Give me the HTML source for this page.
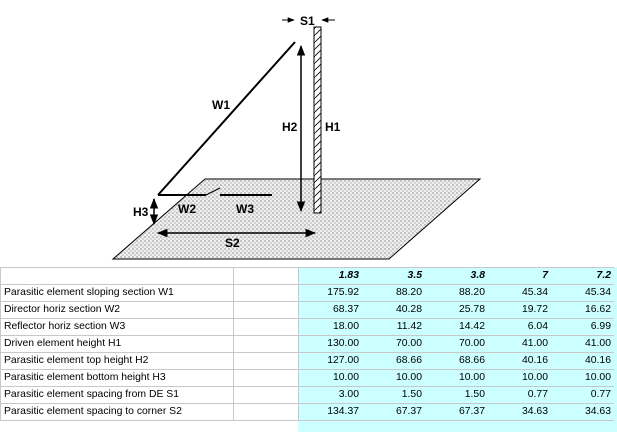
<!DOCTYPE html>
<html><head><style>
body{margin:0;width:617px;height:432px;background:#fff;overflow:hidden;position:relative;font-family:"Liberation Sans",sans-serif}
svg{position:absolute;left:0;top:0}
table{position:absolute;left:0;top:267px;border-collapse:collapse;font-size:10.4px;color:#000}
td{height:16px;padding:0 3px;border:1px solid #c8c8c8;white-space:nowrap;line-height:16px}
td.c{background:#ccffff;border-left:none;border-right:none;text-align:right;width:57px;border-top:1px solid #c8c8c8}
tr.h td.c{font-weight:bold;font-style:italic}
</style></head><body>
<div style="position:absolute;left:298px;top:267px;width:319px;height:165px;background:#ccffff"></div>
<svg width="617" height="267">
<defs>
<pattern id="d" width="4" height="4" patternUnits="userSpaceOnUse"><rect width="4" height="4" fill="#efefef"/><rect width="2" height="2" fill="#c4c4c4"/><rect x="2" y="2" width="2" height="2" fill="#d4d4d4"/></pattern>
<pattern id="h" width="7" height="7" patternUnits="userSpaceOnUse"><rect width="7" height="7" fill="#fff"/><path d="M0 7L7 0" stroke="#000" stroke-width="0.8"/></pattern>
<marker id="a" viewBox="0 0 10 10" refX="9" refY="5" markerWidth="7" markerHeight="7" orient="auto-start-reverse"><path d="M0 1L10 5L0 9z" fill="#000"/></marker>
</defs>
<polygon points="205,179 480,179 389,259 113,259" fill="url(#d)" stroke="#000" stroke-width="1"/>
<rect x="314" y="27" width="7" height="186" fill="url(#h)" stroke="#000"/>
<line x1="158" y1="195" x2="295" y2="42" stroke="#000" stroke-width="2"/>
<line x1="158" y1="195" x2="206" y2="195" stroke="#000" stroke-width="2"/>
<line x1="206" y1="195" x2="220" y2="188" stroke="#000" stroke-width="1"/>
<line x1="220" y1="195" x2="272" y2="195" stroke="#000" stroke-width="2"/>
<line x1="301" y1="46" x2="301" y2="211" stroke="#000" stroke-width="1.5" marker-start="url(#a)" marker-end="url(#a)"/>
<line x1="154" y1="199" x2="154" y2="224" stroke="#000" stroke-width="1.5" marker-start="url(#a)" marker-end="url(#a)"/>
<line x1="158" y1="233" x2="315" y2="233" stroke="#000" stroke-width="1.5" marker-start="url(#a)" marker-end="url(#a)"/>
<line x1="282" y1="20" x2="294" y2="20" stroke="#000" stroke-width="1" marker-end="url(#a)"/>
<line x1="335" y1="20" x2="322" y2="20" stroke="#000" stroke-width="1" marker-end="url(#a)"/>
<g font-family="Liberation Sans,sans-serif" font-weight="bold" font-size="12">
<text x="300" y="25">S1</text>
<text x="212" y="109">W1</text>
<text x="282" y="131">H2</text>
<text x="325" y="131">H1</text>
<text x="178" y="213">W2</text>
<text x="236" y="213">W3</text>
<text x="133" y="216">H3</text>
<text x="225" y="247">S2</text>
</g>
</svg>
<table>
<tr class="h"><td style="width:226px"></td><td style="width:58px"></td><td class="c">1.83</td><td class="c">3.5</td><td class="c">3.8</td><td class="c">7</td><td class="c" style="width:53px">7.2</td></tr>
<tr><td>Parasitic element sloping section W1</td><td></td><td class="c">175.92</td><td class="c">88.20</td><td class="c">88.20</td><td class="c">45.34</td><td class="c">45.34</td></tr>
<tr><td>Director horiz section W2</td><td></td><td class="c">68.37</td><td class="c">40.28</td><td class="c">25.78</td><td class="c">19.72</td><td class="c">16.62</td></tr>
<tr><td>Reflector horiz section W3</td><td></td><td class="c">18.00</td><td class="c">11.42</td><td class="c">14.42</td><td class="c">6.04</td><td class="c">6.99</td></tr>
<tr><td>Driven element height H1</td><td></td><td class="c">130.00</td><td class="c">70.00</td><td class="c">70.00</td><td class="c">41.00</td><td class="c">41.00</td></tr>
<tr><td>Parasitic element top height H2</td><td></td><td class="c">127.00</td><td class="c">68.66</td><td class="c">68.66</td><td class="c">40.16</td><td class="c">40.16</td></tr>
<tr><td>Parasitic element bottom height H3</td><td></td><td class="c">10.00</td><td class="c">10.00</td><td class="c">10.00</td><td class="c">10.00</td><td class="c">10.00</td></tr>
<tr><td>Parasitic element spacing from DE S1</td><td></td><td class="c">3.00</td><td class="c">1.50</td><td class="c">1.50</td><td class="c">0.77</td><td class="c">0.77</td></tr>
<tr><td>Parasitic element spacing to corner S2</td><td></td><td class="c">134.37</td><td class="c">67.37</td><td class="c">67.37</td><td class="c">34.63</td><td class="c">34.63</td></tr>
</table>
</body></html>
